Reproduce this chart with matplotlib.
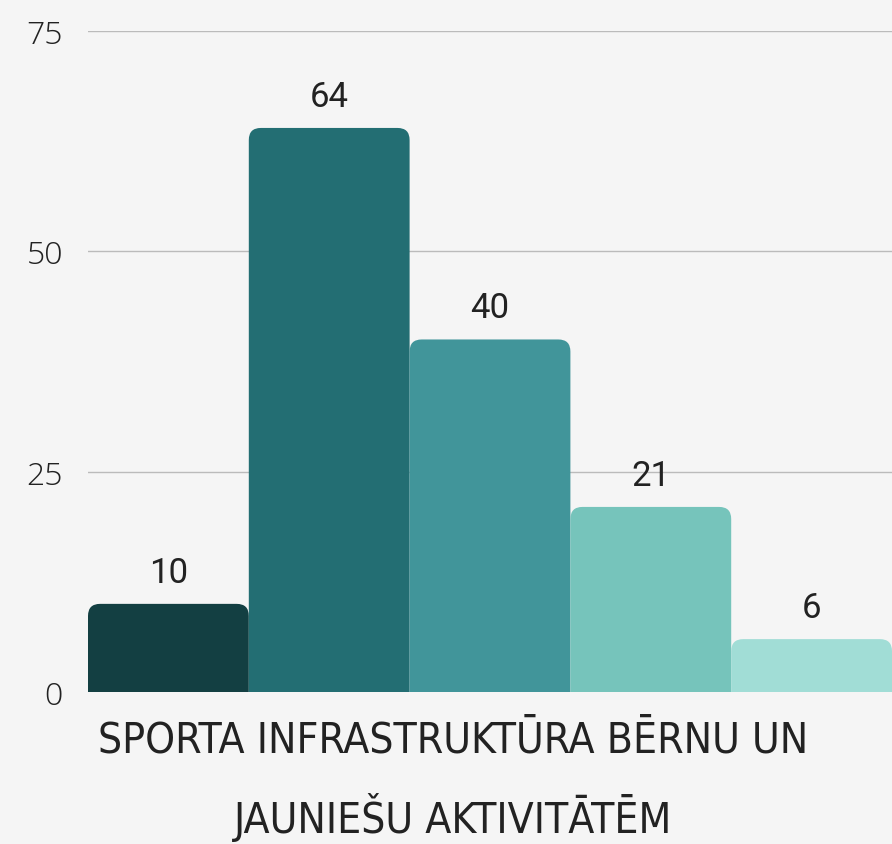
import matplotlib
matplotlib.use("Agg")
from matplotlib import pyplot as plt
from matplotlib.patches import FancyBboxPatch
from matplotlib import font_manager

values = [10, 64, 40, 21, 6]
colors = ['#133f42', '#236e73', '#41959a', '#76c4bb', '#a1ddd6']
yticks = [0, 25, 50, 75]
title = 'SPORTA INFRASTRUKTŪRA BĒRNU UN\nJAUNIEŠU AKTIVITĀTĒM'

bg = '#f5f5f5'


def wnum(w):
    if isinstance(w, int):
        return w
    return font_manager.weight_dict.get(str(w), 400)


# look for some narrow face for the title
cands = []
for f in font_manager.fontManager.ttflist:
    st = str(f.stretch).lower()
    if ('narrow' in f.name.lower() or 'condensed' in f.name.lower()
            or st in ('condensed', 'semi-condensed', 'extra-condensed', 'ultra-condensed')
            or (st.isdigit() and int(st) < 500)):
        if f.style == 'normal':
            cands.append(f)
title_font = None
if cands:
    cands.sort(key=lambda f: abs(wnum(f.weight) - 400))
    title_font = font_manager.FontProperties(fname=cands[0].fname)

fig = plt.figure(figsize=(8.92, 8.45), dpi=100, facecolor=bg)
ax = fig.add_axes([88 / 892, 1 - 693 / 845, 804 / 892, 661 / 845])
ax.set_facecolor(bg)
ax.set_xlim(-0.5, len(values) - 0.5)
ax.set_ylim(0, 75)

# rounded tops: round box pushed below zero and clipped by the axes
aspect = (804 / len(values)) / (661 / 75)
r = 0.075
for i, (v, c) in enumerate(zip(values, colors)):
    p = FancyBboxPatch((i - 0.5, -5), 1, v + 5,
                       boxstyle=f'round,pad=0,rounding_size={r}',
                       mutation_aspect=aspect, fc=c, ec='none', zorder=3)
    ax.add_patch(p)
    ax.annotate(str(v), (i, v), xytext=(0, 11), textcoords='offset points',
                ha='center', va='bottom', fontsize=25, color='#222222',
                family=['Roboto', 'DejaVu Sans'], zorder=4)

ax.set_yticks(yticks)
ax.set_yticklabels([str(t) for t in yticks], fontsize=23, color='#222222',
                   family=['Open Sans', 'DejaVu Sans'], fontweight='light')
ax.set_xticks([])
ax.tick_params(axis='y', length=0, pad=18)
ax.grid(axis='y', color='#bbbbbb', linewidth=1, zorder=0)
for s in ax.spines.values():
    s.set_visible(False)

kw = dict(ha='center', va='bottom', fontsize=44, color='#222222', linespacing=1.8)
if title_font is not None:
    t = fig.text(453 / 892, 0.003, title, fontproperties=title_font, **kw)
    t.set_fontsize(44)
else:
    t = fig.text(453 / 892, 0.003, title, family='DejaVu Sans', **kw)

# shrink title to the reference width (~710 px)
fig.canvas.draw()
w = t.get_window_extent().width
if w > 710:
    t.set_fontsize(44 * 710 / w)

fig.savefig('out.png', dpi=100, facecolor=bg)
